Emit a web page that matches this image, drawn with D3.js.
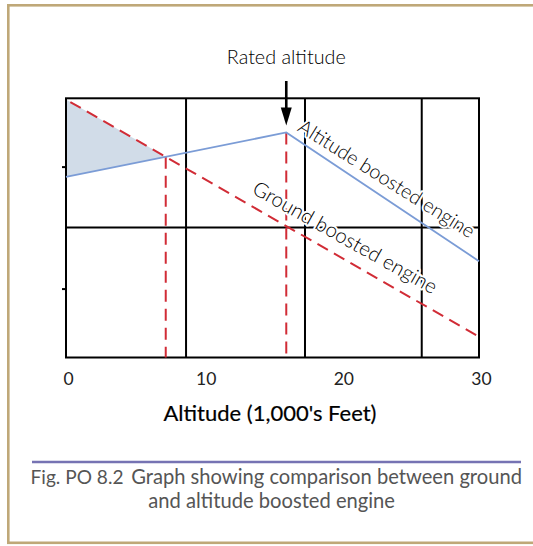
<!DOCTYPE html>
<html>
<head>
<meta charset="utf-8">
<script src="https://cdn.jsdelivr.net/npm/d3@7/dist/d3.min.js"></script>
<style>
  html, body { margin: 0; padding: 0; background: #fff; }
  svg { display: block; font-family: Lato, "Open Sans", sans-serif; }
</style>
</head>
<body>
<svg id="chart" width="533" height="546"></svg>
<script>
// values (y has no units, only relative power)
const xTicks = [0, 10, 20, 30]
const yTicks = [1, 3]
const xGrid = [8.72, 17.36, 25.84]
const yGrid = [2]
const groundX = [0, 30]
const groundY = [4.1, 0.21]
const altitudeX = [0, 16, 30]
const altitudeY = [2.83, 3.56, 1.45]
const ratedAltitude = 16
const labels = ['Rated altitude', 'Altitude boosted engine', 'Ground boosted engine']
const axisTitle = "Altitude (1,000's Feet)"
const caption = ['Fig. PO 8.2', 'Graph showing comparison between ground', 'and altitude boosted engine']

const svg = d3.select('#chart')

const x = d3.scaleLinear().domain([0, 30]).range([66, 479])
const y = d3.scaleLinear().domain([-0.13, 4.12]).range([357.5, 98.3])

// interpolate a polyline at a given x
function at(xs, ys, v) {
  for (let i = 1; i < xs.length; i++) {
    if (v <= xs[i]) {
      const t = (v - xs[i - 1]) / (xs[i] - xs[i - 1])
      return ys[i - 1] + t * (ys[i] - ys[i - 1])
    }
  }
  return ys[ys.length - 1]
}

// where the ground line meets the rising part of the altitude line
const gSlope = (groundY[1] - groundY[0]) / (groundX[1] - groundX[0])
const aSlope = (altitudeY[1] - altitudeY[0]) / (altitudeX[1] - altitudeX[0])
const crossX = (altitudeY[0] - groundY[0]) / (gSlope - aSlope)
const crossY = at(altitudeX, altitudeY, crossX)

// shrink/grow font so text hits a measured width
function fit(sel, w) {
  const fs = parseFloat(sel.attr('font-size'))
  const cur = sel.node().getComputedTextLength()
  sel.attr('font-size', fs * w / cur)
  return fs * w / cur
}

// frame
svg.append('rect')
  .attr('x', 8.3).attr('y', 5.3)
  .attr('width', 540).attr('height', 537.5)
  .attr('fill', 'none')
  .attr('stroke', '#bfa878')
  .attr('stroke-width', 2.6)

// grid
svg.append('g').selectAll('line')
  .data(xGrid).join('line')
  .attr('x1', d => x(d)).attr('x2', d => x(d))
  .attr('y1', y.range()[0]).attr('y2', y.range()[1])
  .attr('stroke', '#000').attr('stroke-width', 2)
svg.append('g').selectAll('line')
  .data(yGrid).join('line')
  .attr('y1', d => y(d)).attr('y2', d => y(d))
  .attr('x1', x.range()[0]).attr('x2', x.range()[1])
  .attr('stroke', '#000').attr('stroke-width', 2)

// shaded gain area
const shade = [[0, groundY[0]], [crossX, crossY], [0, altitudeY[0]]]
svg.append('path')
  .attr('d', d3.line().x(d => x(d[0])).y(d => y(d[1]))(shade) + 'Z')
  .attr('fill', '#d1dce8')

// plot box
svg.append('rect')
  .attr('x', x.range()[0]).attr('y', y.range()[1])
  .attr('width', x.range()[1] - x.range()[0])
  .attr('height', y.range()[0] - y.range()[1])
  .attr('fill', 'none').attr('stroke', '#000').attr('stroke-width', 2)

// y ticks, no labels
const yAxis = svg.append('g')
  .attr('transform', `translate(${x.range()[0]},0)`)
  .call(d3.axisLeft(y).tickValues(yTicks).tickSize(4).tickFormat(''))
yAxis.select('.domain').remove()
yAxis.selectAll('line').attr('stroke-width', 2)

// x tick labels
const xAxis = svg.append('g')
  .attr('transform', `translate(0,${y.range()[0]})`)
  .call(d3.axisBottom(x).tickValues(xTicks).tickSize(0).tickPadding(15))
xAxis.select('.domain').remove()
xAxis.selectAll('text')
  .attr('font-size', 17.5)
  .attr('font-family', 'Lato, sans-serif')
  .attr('fill', '#222')
  .attr('dx', 2)

// red dashed ground line and drop lines
const dash = '12,7'
svg.append('path')
  .attr('d', d3.line().x((d, i) => x(groundX[i])).y(d => y(d))(groundY))
  .attr('fill', 'none').attr('stroke', '#d12c36').attr('stroke-width', 2)
  .attr('stroke-dasharray', dash).attr('stroke-dashoffset', 14)
svg.append('g').selectAll('line')
  .data([[crossX, crossY], [ratedAltitude, at(altitudeX, altitudeY, ratedAltitude)]])
  .join('line')
  .attr('x1', d => x(d[0])).attr('x2', d => x(d[0]))
  .attr('y1', d => y(d[1])).attr('y2', y.range()[0])
  .attr('stroke', '#d12c36').attr('stroke-width', 2)
  .attr('stroke-dasharray', dash)

// line labels along the curves (white halo hides grid and drop lines underneath)
function lineLabel(text, xs, ys, at0, dy, angle, w) {
  const px = x(at0), py = y(at(xs, ys, at0)) + dy
  const t = svg.append('text')
    .attr('transform', `translate(${px},${py}) rotate(${angle})`)
    .attr('font-size', 18)
    .attr('font-weight', 300)
    .attr('fill', '#000')
    .attr('stroke', '#fff').attr('stroke-width', 4)
    .attr('paint-order', 'stroke')
    .attr('stroke-linejoin', 'round')
    .text(text)
  fit(t, w)
}
lineLabel(labels[1], altitudeX, altitudeY, 16.75, -9, 32.1, 204)
lineLabel(labels[2], groundX, groundY, 13.44, -13, 29.3, 208)

// blue altitude boosted line
svg.append('path')
  .attr('d', d3.line().x((d, i) => x(altitudeX[i])).y(d => y(d))(altitudeY))
  .attr('fill', 'none').attr('stroke', '#7b9cd6').attr('stroke-width', 1.8)

// rated altitude arrow
const ax = x(ratedAltitude)
const tipY = y(at(altitudeX, altitudeY, ratedAltitude)) - 7
svg.append('line')
  .attr('x1', ax).attr('x2', ax)
  .attr('y1', 81).attr('y2', tipY - 16)
  .attr('stroke', '#000').attr('stroke-width', 2.6)
svg.append('path')
  .attr('d', `M${ax - 5.5},${tipY - 18}L${ax + 5.5},${tipY - 18}L${ax},${tipY}Z`)
  .attr('fill', '#000')

const rated = svg.append('text')
  .attr('x', ax).attr('y', 64.3)
  .attr('text-anchor', 'middle')
  .attr('font-size', 18).attr('font-weight', 300).attr('fill', '#000')
  .text(labels[0])
fit(rated, 119)

// axis title
const title = svg.append('text')
  .attr('x', 270).attr('y', 421)
  .attr('text-anchor', 'middle')
  .attr('font-size', 19).attr('fill', '#000')
  .attr('stroke', '#000').attr('stroke-width', 0.2)
  .text(axisTitle)
fit(title, 213)

// caption rule and text
svg.append('line')
  .attr('x1', 32).attr('x2', 521)
  .attr('y1', 462).attr('y2', 462)
  .attr('stroke', '#7673b3').attr('stroke-width', 2.6)

const capFig = svg.append('text')
  .attr('x', 30.6).attr('y', 484.3)
  .attr('font-size', 16).attr('fill', '#555')
  .text(caption[0])
fit(capFig, 93)
const capMain = svg.append('text')
  .attr('x', 522).attr('y', 484.3)
  .attr('text-anchor', 'end')
  .attr('font-size', 16).attr('fill', '#555')
  .text(caption[1])
const capSize = fit(capMain, 391)
svg.append('text')
  .attr('x', 148.3).attr('y', 507.7)
  .attr('font-size', capSize).attr('fill', '#555')
  .text(caption[2])
</script>
</body>
</html>
